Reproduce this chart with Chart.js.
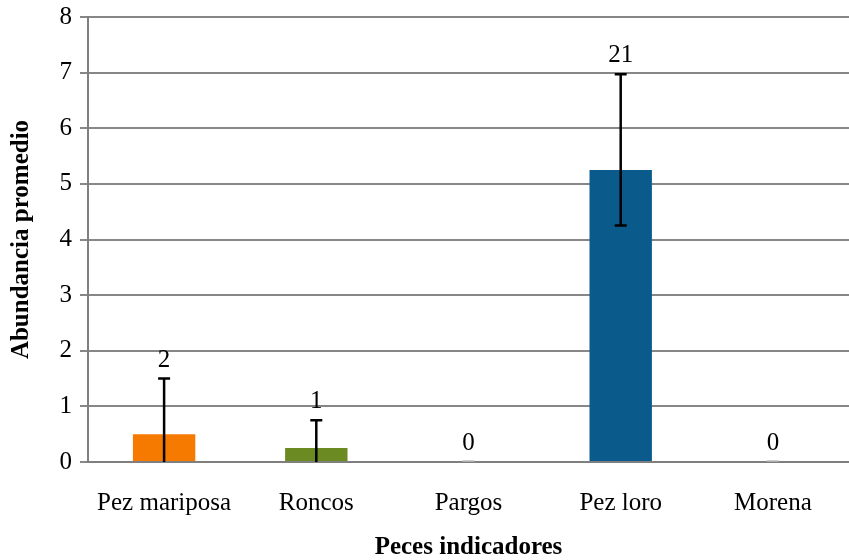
<!DOCTYPE html>
<html>
<head>
<meta charset="utf-8">
<script src="https://cdn.jsdelivr.net/npm/chart.js@4"></script>
<style>
  html, body { margin: 0; padding: 0; background: #fff; }
  #wrap { width: 849px; height: 560px; }
</style>
</head>
<body>
<div id="wrap"><canvas id="fishChart"></canvas></div>
<script>
const categories = ['Pez mariposa', 'Roncos', 'Pargos', 'Pez loro', 'Morena'];
const meanValues = [0.5, 0.25, 0, 5.25, 0];
const errLow = [0, 0, 0, 4.25, 0];
const errHigh = [1.5, 0.75, 0, 6.97, 0];
const countLabels = ['2', '1', '0', '21', '0'];
const barColors = ['#F77A00', '#6B8A22', '#0A5A8C', '#0A5A8C', '#0A5A8C'];

const serif = "'Liberation Serif', 'Times New Roman', serif";

const errorBars = {
  id: 'errorBars',
  afterDatasetsDraw(chart) {
    const ctx = chart.ctx;
    const y = chart.scales.y;
    const meta = chart.getDatasetMeta(0);
    ctx.save();
    meta.data.forEach(function(bar, i) {
      const x = bar.x;
      const top = y.getPixelForValue(errHigh[i]);
      const bot = y.getPixelForValue(errLow[i]);
      ctx.strokeStyle = '#000';
      ctx.lineWidth = 2.5;
      if (errHigh[i] > 0) {
        ctx.beginPath();
        ctx.moveTo(x, bot);
        ctx.lineTo(x, top);
        ctx.moveTo(x - 6, top);
        ctx.lineTo(x + 6, top);
        if (errLow[i] > 0) {
          ctx.moveTo(x - 6, bot);
          ctx.lineTo(x + 6, bot);
        }
        ctx.stroke();
      } else {
        ctx.strokeStyle = '#bdbdbd';
        ctx.lineWidth = 1.5;
        ctx.beginPath();
        ctx.moveTo(x - 6, top - 1);
        ctx.lineTo(x + 6, top - 1);
        ctx.stroke();
      }
      // count label above the highest mark
      const peak = Math.min(top, bar.y);
      ctx.fillStyle = '#000';
      ctx.font = '25px ' + serif;
      ctx.textAlign = 'center';
      ctx.textBaseline = 'bottom';
      ctx.fillText(countLabels[i], x, peak - 6);
    });
    ctx.restore();
  }
};

new Chart(document.getElementById('fishChart'), {
  type: 'bar',
  data: {
    labels: categories,
    datasets: [{
      data: meanValues,
      backgroundColor: barColors,
      borderWidth: 0,
      categoryPercentage: 1,
      barPercentage: 0.41
    }]
  },
  options: {
    responsive: true,
    maintainAspectRatio: false,
    animation: false,
    layout: { padding: 0 },
    plugins: {
      legend: { display: false },
      tooltip: { enabled: false }
    },
    scales: {
      x: {
        grid: { display: false },
        border: { display: true, color: '#7f7f7f', width: 2 },
        ticks: {
          color: '#000',
          padding: 18,
          maxRotation: 0,
          font: { family: serif, size: 25 }
        },
        title: {
          display: true,
          text: 'Peces indicadores',
          color: '#000',
          padding: { top: 0, bottom: 0 },
          font: { family: serif, size: 25, weight: 'bold', lineHeight: 1 }
        },
        afterFit(scale) { scale.height = 98; }
      },
      y: {
        min: 0,
        max: 8,
        grid: {
          color: '#878787',
          lineWidth: 2,
          drawTicks: true,
          tickLength: 8
        },
        border: { display: true, color: '#7f7f7f', width: 2 },
        ticks: {
          stepSize: 1,
          color: '#000',
          padding: 8,
          font: { family: serif, size: 25 }
        },
        title: {
          display: true,
          text: 'Abundancia promedio',
          color: '#000',
          padding: { top: 7, bottom: 0 },
          font: { family: serif, size: 25, weight: 'bold' }
        },
        afterFit(scale) {
          scale.width = 88;
          scale.paddingTop = 17;
          scale.paddingBottom = 0;
        }
      }
    }
  },
  plugins: [errorBars]
});
</script>
</body>
</html>
